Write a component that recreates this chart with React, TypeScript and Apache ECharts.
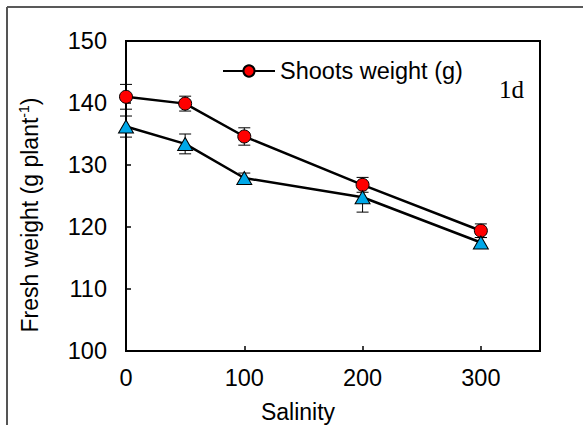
import React, { useEffect, useRef } from "react";
import * as echarts from "echarts";

const salinity = [0, 50, 100, 200, 300];
const shoots = [141.0, 139.9, 134.6, 126.8, 119.4];
const shootsErr = [2.0, 1.2, 1.4, 1.2, 1.1];
const second = [136.2, 133.4, 127.9, 124.8, 117.5];
const secondErr = [1.7, 1.6, 0.8, 2.4, 0.8];
const yTicks = { min: 100, max: 150, interval: 10 };
const xTicks = { min: 0, max: 350, interval: 100 };

const FONT = "'Liberation Sans', Arial, sans-serif";
const FS = 23.5;

function errRender(params: any, api: any) {
  const x = api.value(0);
  const lo = api.coord([x, api.value(1)]);
  const hi = api.coord([x, api.value(2)]);
  const w = 6;
  const st = { stroke: "#000", lineWidth: 1 };
  return {
    type: "group",
    children: [
      { type: "line", shape: { x1: lo[0], y1: lo[1], x2: hi[0], y2: hi[1] }, style: st },
      { type: "line", shape: { x1: lo[0] - w, y1: lo[1], x2: lo[0] + w, y2: lo[1] }, style: st },
      { type: "line", shape: { x1: hi[0] - w, y1: hi[1], x2: hi[0] + w, y2: hi[1] }, style: st },
    ],
  };
}

export default function App() {
  const ref = useRef<HTMLDivElement>(null);
  useEffect(() => {
    if (!ref.current) return;
    const chart = echarts.init(ref.current, null, { renderer: "svg" });
    chart.setOption({
      animation: false,
      backgroundColor: "#fff",
      grid: {
        left: 126,
        right: 43,
        top: 41,
        bottom: 74,
        show: true,
        borderColor: "#000",
        borderWidth: 2,
        backgroundColor: "transparent",
      },
      legend: {
        data: ["Shoots weight (g)"],
        left: 222,
        top: 59,
        padding: 0,
        itemWidth: 52,
        itemHeight: 14,
        itemGap: 5,
        textStyle: { fontFamily: FONT, fontSize: FS, color: "#000" },
      },
      xAxis: {
        type: "value",
        min: xTicks.min,
        max: xTicks.max,
        interval: xTicks.interval,
        axisLine: { lineStyle: { color: "#000", width: 2 } },
        axisTick: { inside: true, length: 5, lineStyle: { color: "#000", width: 1.5 } },
        axisLabel: {
          showMaxLabel: false,
          margin: 15,
          fontFamily: FONT,
          fontSize: FS,
          color: "#000",
        },
        splitLine: { show: false },
      },
      yAxis: {
        type: "value",
        min: yTicks.min,
        max: yTicks.max,
        interval: yTicks.interval,
        axisLine: { show: true, lineStyle: { color: "#000", width: 2 } },
        axisTick: { show: true, inside: true, length: 5, lineStyle: { color: "#000", width: 1.5 } },
        axisLabel: { margin: 19, fontFamily: FONT, fontSize: FS, color: "#000" },
        splitLine: { show: false },
      },
      graphic: [
        { type: "line", shape: { x1: 7, y1: 7, x2: 583, y2: 7 }, style: { stroke: "#222", lineWidth: 1.5 } },
        { type: "line", shape: { x1: 7, y1: 7, x2: 7, y2: 425 }, style: { stroke: "#555", lineWidth: 2 } },
        {
          type: "text",
          x: 29,
          y: 215,
          rotation: Math.PI / 2,
          style: {
            text: "{a|Fresh weight (g plant}{s|-1}{a|)}",
            align: "center",
            verticalAlign: "middle",
            fill: "#000",
            rich: {
              a: { fontFamily: FONT, fontSize: 23, lineHeight: 25, fill: "#000", verticalAlign: "bottom" },
              s: { fontFamily: FONT, fontSize: 14, lineHeight: 14, fill: "#000", verticalAlign: "top" },
            },
          },
        },
        {
          type: "text",
          x: 298,
          y: 412,
          style: {
            text: "Salinity",
            fontFamily: FONT,
            fontSize: 23,
            fill: "#000",
            align: "center",
            verticalAlign: "middle",
          },
        },
        {
          type: "text",
          x: 499,
          y: 89,
          style: {
            text: "1d",
            fontFamily: "'Liberation Serif', 'Times New Roman', serif",
            fontSize: 25,
            fill: "#000",
            align: "left",
            verticalAlign: "middle",
          },
        },
      ],
      series: [
        {
          type: "custom",
          name: "shootsErr",
          renderItem: errRender,
          encode: { x: 0, y: [1, 2] },
          data: salinity.map((s, i) => [s, shoots[i] - shootsErr[i], shoots[i] + shootsErr[i]]),
          z: 3,
          silent: true,
        },
        {
          type: "custom",
          name: "secondErr",
          renderItem: errRender,
          encode: { x: 0, y: [1, 2] },
          data: salinity.map((s, i) => [s, second[i] - secondErr[i], second[i] + secondErr[i]]),
          z: 3,
          silent: true,
        },
        {
          type: "line",
          name: "Shoots weight (g)",
          data: salinity.map((s, i) => [s, shoots[i]]),
          symbol: "circle",
          symbolSize: 13,
          showAllSymbol: true,
          lineStyle: { color: "#000", width: 2.5 },
          itemStyle: { color: "#ff0000", borderColor: "#000", borderWidth: 1 },
          z: 4,
        },
        {
          type: "line",
          name: "second",
          data: salinity.map((s, i) => [s, second[i]]),
          symbol: "triangle",
          symbolSize: [15, 13],
          showAllSymbol: true,
          lineStyle: { color: "#000", width: 2.5 },
          itemStyle: { color: "#00a8e8", borderColor: "#000", borderWidth: 1 },
          z: 4,
        },
      ],
    });
    return () => chart.dispose();
  }, []);
  return (
    <div
      ref={ref}
      style={{ position: "fixed", left: 0, top: 0, width: 583, height: 425, background: "#fff" }}
    />
  );
}
